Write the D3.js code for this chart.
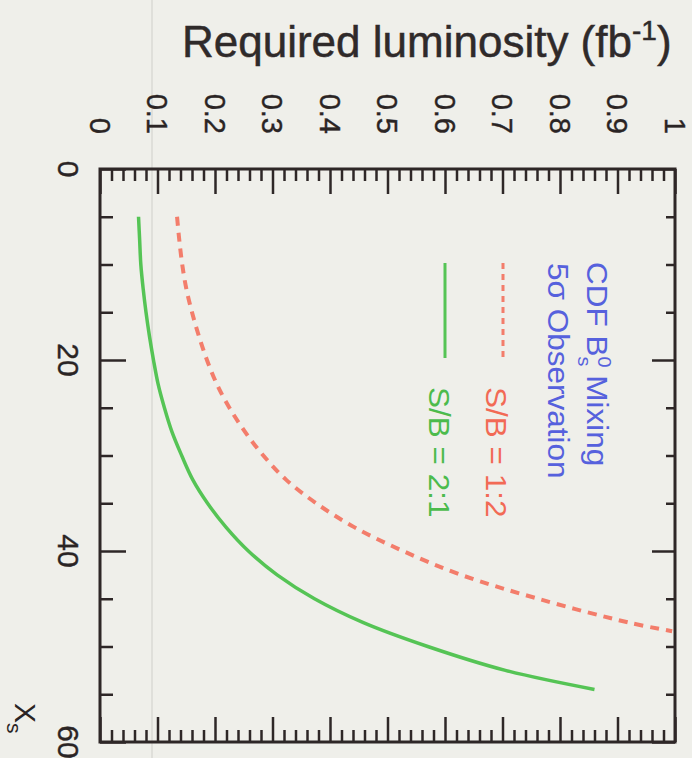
<!DOCTYPE html>
<html>
<head>
<meta charset="utf-8">
<script src="https://cdn.jsdelivr.net/npm/d3@7"></script>
<style>
  html, body { margin: 0; padding: 0; background: #efefea; }
  svg { display: block; font-family: "Liberation Sans", Arial, Helvetica, sans-serif; }
</style>
</head>
<body>
<svg id="chart" width="692" height="758"></svg>
<script>
// x_s values (chart is drawn rotated: x_s runs top -> bottom)
const xsGreen = [5, 7.5, 10, 12.5, 15, 17.5, 20, 22.5, 25, 27.5, 30, 32.5, 35, 37.5, 40, 42.5, 45, 47.5, 50, 52.5, 54.5];
const lumGreen = [0.067, 0.069, 0.071, 0.075, 0.080, 0.086, 0.093, 0.101, 0.112, 0.125, 0.142, 0.161, 0.187, 0.219, 0.258, 0.308, 0.373, 0.458, 0.570, 0.705, 0.86];

const xsRed = [5, 7.5, 10, 12.5, 15, 17.5, 20, 22.5, 25, 27.5, 30, 32.5, 35, 37.5, 40, 42.5, 45, 47.5, 48.4];
const lumRed = [0.134, 0.138, 0.143, 0.150, 0.160, 0.172, 0.186, 0.203, 0.225, 0.252, 0.284, 0.323, 0.376, 0.442, 0.527, 0.628, 0.762, 0.92, 0.995];

const lumTicks = [0, 0.1, 0.2, 0.3, 0.4, 0.5, 0.6, 0.7, 0.8, 0.9, 1];
const lumTickLabels = ['0', '0.1', '0.2', '0.3', '0.4', '0.5', '0.6', '0.7', '0.8', '0.9', '1'];
const xsTicks = [0, 20, 40, 60];
const xsTickLabels = ['0', '20', '40', '60'];

const axisColor = '#2e2727';
const svg = d3.select('#chart');

const lum = d3.scaleLinear().domain([0, 1]).range([100, 675]);
const xs = d3.scaleLinear().domain([0, 60]).range([169, 742]);

// faint scan crease
svg.append('line')
  .attr('x1', 152).attr('x2', 152).attr('y1', 0).attr('y2', 758)
  .attr('stroke', '#dadad4').attr('stroke-width', 1.5);

// strip labels and domain, style tick lines
function styleTicks(g) {
  g.select('.domain').remove();
  g.selectAll('.tick line').attr('stroke', axisColor).attr('stroke-width', 2.5);
  g.selectAll('.tick text').remove();
}

const lumMinor = d3.range(0, 51).map(i => i / 50).filter(v => Math.round(v * 50) % 5 !== 0);
const xsMinor = d3.range(5, 60, 5).filter(v => v % 20 !== 0);

// top axis
svg.append('g').attr('transform', 'translate(0,169)')
  .call(d3.axisTop(lum).tickValues(lumMinor).tickSizeInner(-12).tickSizeOuter(0)).call(styleTicks);
svg.append('g').attr('transform', 'translate(0,169)')
  .call(d3.axisTop(lum).tickValues(lumTicks).tickSizeInner(-25).tickSizeOuter(0)).call(styleTicks);
// bottom axis
svg.append('g').attr('transform', 'translate(0,742)')
  .call(d3.axisBottom(lum).tickValues(lumMinor).tickSizeInner(-12).tickSizeOuter(0)).call(styleTicks);
svg.append('g').attr('transform', 'translate(0,742)')
  .call(d3.axisBottom(lum).tickValues(lumTicks).tickSizeInner(-25).tickSizeOuter(0)).call(styleTicks);
// left axis
svg.append('g').attr('transform', 'translate(100,0)')
  .call(d3.axisLeft(xs).tickValues(xsMinor).tickSizeInner(-13).tickSizeOuter(0)).call(styleTicks);
svg.append('g').attr('transform', 'translate(100,0)')
  .call(d3.axisLeft(xs).tickValues(xsTicks).tickSizeInner(-26).tickSizeOuter(0)).call(styleTicks);
// right axis
svg.append('g').attr('transform', 'translate(675,0)')
  .call(d3.axisRight(xs).tickValues(xsMinor).tickSizeInner(-9).tickSizeOuter(0)).call(styleTicks);
svg.append('g').attr('transform', 'translate(675,0)')
  .call(d3.axisRight(xs).tickValues(xsTicks).tickSizeInner(-23).tickSizeOuter(0)).call(styleTicks);

// frame
svg.append('rect')
  .attr('x', lum(0)).attr('y', xs(0))
  .attr('width', lum(1) - lum(0)).attr('height', xs(60) - xs(0))
  .attr('fill', 'none').attr('stroke', axisColor).attr('stroke-width', 3);

// tick labels (rotated)
svg.append('g').selectAll('text')
  .data(lumTicks)
  .join('text')
  .attr('transform', d => `translate(${lum(d)},134) rotate(90)`)
  .attr('text-anchor', 'end')
  .attr('dy', '0.35em')
  .attr('font-size', 29)
  .attr('fill', '#2a2424')
  .attr('stroke', '#2a2424').attr('stroke-width', 0.4)
  .text((d, i) => lumTickLabels[i]);

svg.append('g').selectAll('text')
  .data(xsTicks)
  .join('text')
  .attr('transform', d => `translate(58,${xs(d)}) rotate(90)`)
  .attr('text-anchor', 'middle')
  .attr('font-size', 30)
  .attr('fill', '#2a2424')
  .attr('stroke', '#2a2424').attr('stroke-width', 0.4)
  .text((d, i) => xsTickLabels[i]);

// title
const title = svg.append('text')
  .attr('x', 182).attr('y', 57)
  .attr('font-size', 44)
  .attr('fill', '#2f2a2a')
  .attr('stroke', '#2f2a2a').attr('stroke-width', 0.5)
  .text('Required luminosity (fb');
title.append('tspan').attr('font-size', 28).attr('dy', -17).text('-1');
title.append('tspan').attr('dy', 17).text(')');

// x_s axis label
const xl = svg.append('text')
  .attr('transform', 'translate(15,703) rotate(90)')
  .attr('font-size', 30)
  .attr('fill', '#2a2424')
  .text('X');
xl.append('tspan').attr('font-size', 21).attr('dy', 8).text('s');

// curves
const line = d3.line()
  .x(d => lum(d[1]))
  .y(d => xs(d[0]))
  .curve(d3.curveCatmullRom.alpha(0.5));

svg.append('path')
  .datum(xsRed.map((v, i) => [v, lumRed[i]]))
  .attr('d', line)
  .attr('fill', 'none')
  .attr('stroke', '#f37d6b')
  .attr('stroke-width', 4)
  .attr('stroke-dasharray', '9,7');

svg.append('path')
  .datum(xsGreen.map((v, i) => [v, lumGreen[i]]))
  .attr('d', line)
  .attr('fill', 'none')
  .attr('stroke', '#55c455')
  .attr('stroke-width', 3.5);

// legend
const blue = '#5661dd';
const t1 = svg.append('text')
  .attr('transform', 'translate(587,262) rotate(90) scale(1.05,1)')
  .attr('font-size', 30).attr('fill', blue)
  .text('CDF B');
t1.append('tspan').attr('font-size', 19).attr('dy', -11).text('0');
t1.append('tspan').attr('font-size', 19).attr('dx', -10.5).attr('dy', 20).text('s');
t1.append('tspan').attr('dy', -9).text(' Mixing');

svg.append('text')
  .attr('transform', 'translate(548,263) rotate(90) scale(1.05,1)')
  .attr('font-size', 30).attr('fill', blue)
  .text('5σ Observation');

svg.append('line')
  .attr('x1', 503).attr('x2', 503).attr('y1', 263).attr('y2', 360)
  .attr('stroke', '#f37d6b').attr('stroke-width', 3).attr('stroke-dasharray', '6,5');
svg.append('text')
  .attr('transform', 'translate(486,387) rotate(90) scale(1.05,1)')
  .attr('font-size', 30).attr('fill', '#f26a55')
  .text('S/B = 1:2');

svg.append('line')
  .attr('x1', 445).attr('x2', 445).attr('y1', 263).attr('y2', 358)
  .attr('stroke', '#55c455').attr('stroke-width', 3);
svg.append('text')
  .attr('transform', 'translate(429,387) rotate(90) scale(1.05,1)')
  .attr('font-size', 30).attr('fill', '#4cbb4c')
  .text('S/B = 2:1');
</script>
</body>
</html>
